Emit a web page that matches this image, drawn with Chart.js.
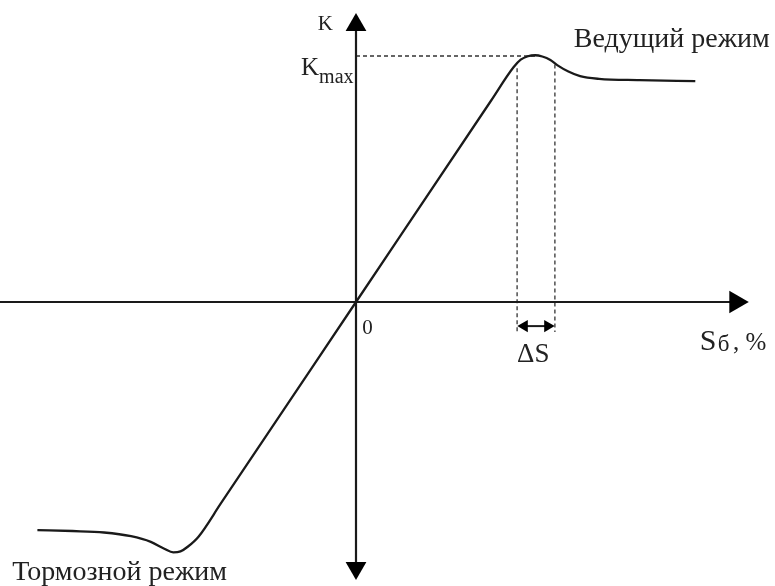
<!DOCTYPE html>
<html>
<head>
<meta charset="utf-8">
<script src="https://cdn.jsdelivr.net/npm/chart.js@4.4.1/dist/chart.umd.min.js"></script>
<style>
    html, body { margin: 0; padding: 0; background: #fff; }
    #wrap { width: 775px; height: 586px; }
</style>
</head>
<body>
<div id="wrap"><canvas id="chart"></canvas></div>
<script>
// slip S (%) and coefficient K (Kmax = 1)
var slipS = [-35.4, -31.5, -28, -25, -22.8, -21.3, -20.3, -19.5, -18.7, -17.5, -15, 0, 15, 17.5, 18.3, 19.1, 19.9, 20.7, 21.6, 22.4, 23.6, 24.9, 27, 31.5, 37.7];
var coefK = [-0.927, -0.931, -0.937, -0.952, -0.975, -1.003, -1.018, -1.014, -0.995, -0.954, -0.818, 0, 0.818, 0.954, 0.985, 0.999, 1.003, 0.998, 0.984, 0.962, 0.937, 0.918, 0.907, 0.902, 0.898];

// axis extents
var axisS = [-39.6, 42.2];
var axisK = [-1.081, 1.126];

// Kmax level and the ΔS zone around the peak
var kMax = 1.0;
var sPeak = 19.9;
var deltaS = [17.9, 22.1];
var deltaTop = [0.95, 0.965];
var deltaBottom = -0.122;
var deltaArrowK = -0.098;
var deltaArrowS = [18.7, 21.3];

var labels = {
    k: 'K',
    kmax: 'K',
    kmaxSub: 'max',
    zero: '0',
    ds: '\u0394S',
    sAxis: 'S',
    sAxisSub: '\u0431',
    sAxisTail: ', %',
    drive: 'Ведущий режим',
    brake: 'Тормозной режим'
};

function pts(xs, ys) {
    return xs.map(function (x, i) { return { x: x, y: ys[i] }; });
}

var ink = '#1a1a1a';
var dash = '#333';
var serif = '"Liberation Serif", "DejaVu Serif", serif';

var textPlugin = {
    id: 'texts',
    afterDraw: function (chart) {
        var ctx = chart.ctx;
        var sx = chart.scales.x, sy = chart.scales.y;
        function put(txt, s, k, size, align) {
            ctx.font = size + 'px ' + serif;
            ctx.textAlign = align || 'left';
            ctx.textBaseline = 'alphabetic';
            ctx.fillText(txt, sx.getPixelForValue(s), sy.getPixelForValue(k));
        }
        ctx.save();
        ctx.fillStyle = '#222';
        put(labels.k, -3.4, 1.105, 21, 'center');
        put(labels.kmax, -6.1, 0.923, 25);
        put(labels.kmaxSub, -4.1, 0.89, 20);
        put(labels.zero, 0.7, -0.13, 21);
        put(labels.ds, 17.9, -0.245, 27);
        put(labels.sAxis, 38.2, -0.195, 30);
        put(labels.sAxisSub, 40.2, -0.2, 23);
        put(labels.sAxisTail, 41.9, -0.195, 25);
        put(labels.drive, 24.2, 1.037, 28);
        put(labels.brake, -38.2, -1.13, 28);
        ctx.restore();
    }
};

new Chart(document.getElementById('chart'), {
    type: 'line',
    data: {
        datasets: [
            {
                // traction curve
                data: pts(slipS, coefK),
                borderColor: ink,
                borderWidth: 2.3,
                pointRadius: 0,
                cubicInterpolationMode: 'monotone'
            },
            {
                // S axis
                data: pts(axisS, [0, 0]),
                borderColor: ink,
                borderWidth: 2.2,
                pointRadius: [0, 13],
                pointStyle: 'triangle',
                pointRotation: 90,
                pointBackgroundColor: '#000',
                pointBorderWidth: 0
            },
            {
                // K axis
                data: pts([0, 0], axisK),
                borderColor: ink,
                borderWidth: 2.2,
                pointRadius: 12,
                pointStyle: 'triangle',
                pointRotation: [180, 0],
                pointBackgroundColor: '#000',
                pointBorderWidth: 0
            },
            {
                // Kmax level
                data: pts([0, sPeak], [kMax, kMax]),
                borderColor: dash,
                borderWidth: 1.3,
                borderDash: [4, 3],
                pointRadius: 0
            },
            {
                data: pts([deltaS[0], deltaS[0]], [deltaTop[0], deltaBottom]),
                borderColor: dash,
                borderWidth: 1.3,
                borderDash: [4, 3],
                pointRadius: 0
            },
            {
                data: pts([deltaS[1], deltaS[1]], [deltaTop[1], deltaBottom]),
                borderColor: dash,
                borderWidth: 1.3,
                borderDash: [4, 3],
                pointRadius: 0
            },
            {
                // ΔS double arrow
                data: pts(deltaArrowS, [deltaArrowK, deltaArrowK]),
                borderColor: ink,
                borderWidth: 2,
                pointRadius: 7,
                pointStyle: 'triangle',
                pointRotation: [270, 90],
                pointBackgroundColor: '#000',
                pointBorderWidth: 0
            }
        ]
    },
    options: {
        responsive: true,
        maintainAspectRatio: false,
        animation: false,
        layout: { padding: 0, autoPadding: false },
        plugins: {
            legend: { display: false },
            tooltip: { enabled: false }
        },
        scales: {
            x: { type: 'linear', min: -39.556, max: 46.556, display: false },
            y: { type: 'linear', min: -1.1545, max: 1.2276, display: false }
        }
    },
    plugins: [textPlugin]
});
</script>
</body>
</html>
